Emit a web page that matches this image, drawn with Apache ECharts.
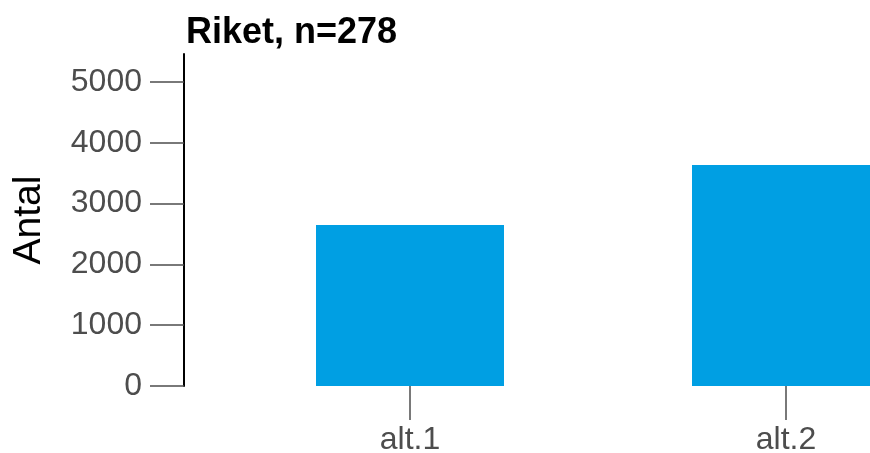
<!DOCTYPE html>
<html>
<head>
<meta charset="utf-8">
<script src="https://cdn.jsdelivr.net/npm/echarts@6/dist/echarts.min.js"></script>
<style>
html,body{margin:0;padding:0;background:#fff;}
#c{width:870px;height:453px;}
</style>
</head>
<body>
<div id="c"></div>
<script>
const categories = ['alt.1', 'alt.2'];
const values = [2648, 3635];
const yTicks = [0, 1000, 2000, 3000, 4000, 5000];
const yMax = 5460;
const titleText = 'Riket, n=278';
const yName = 'Antal';

const chart = echarts.init(document.getElementById('c'), null, {renderer: 'canvas'});
chart.setOption({
  animation: false,
  backgroundColor: '#ffffff',
  title: {
    text: titleText,
    left: 186,
    top: 15,
    padding: 0,
    textStyle: {fontFamily: 'Liberation Sans', fontWeight: 'bold', fontSize: 36, color: '#000'}
  },
  grid: {left: 222, top: 54, width: 752, height: 332, containLabel: false, outerBoundsMode: 'none'},
  xAxis: {
    type: 'category',
    data: categories,
    axisLine: {show: false},
    axisTick: {show: true, alignWithLabel: true, length: 34, lineStyle: {color: '#4d4d4d', width: 1.5}},
    axisLabel: {margin: 38, fontFamily: 'Liberation Sans', fontSize: 32, color: '#4d4d4d'},
    splitLine: {show: false}
  },
  yAxis: {
    type: 'value',
    min: 0,
    max: yMax,
    offset: 38,
    name: yName,
    nameLocation: 'middle',
    nameGap: 135,
    nameRotate: 90,
    nameTextStyle: {fontFamily: 'Liberation Sans', fontSize: 39, color: '#000'},
    axisLine: {show: true, lineStyle: {color: '#000', width: 2}},
    axisTick: {show: true, length: 34, customValues: yTicks, lineStyle: {color: '#4d4d4d', width: 1.5}},
    axisLabel: {customValues: yTicks, margin: 42, fontFamily: 'Liberation Sans', fontSize: 32, color: '#4d4d4d', formatter: v => String(v)},
    splitLine: {show: false}
  },
  series: [{
    type: 'bar',
    data: values,
    barWidth: '50%',
    itemStyle: {color: '#009FE3'}
  }]
});
</script>
</body>
</html>
